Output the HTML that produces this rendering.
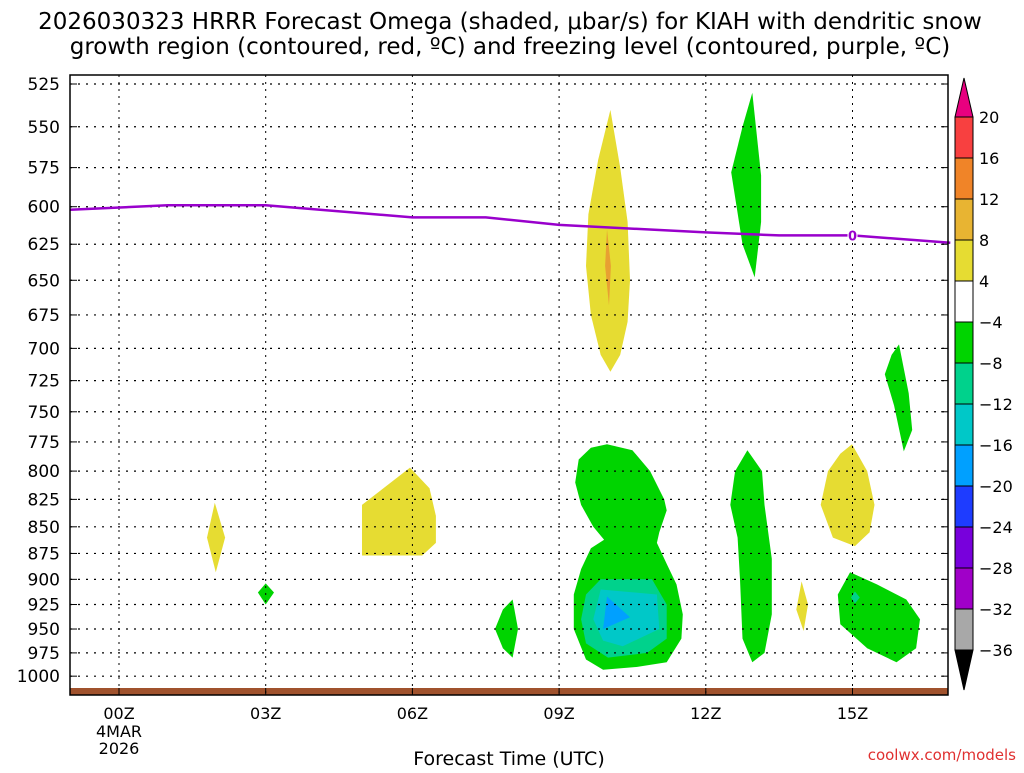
<!DOCTYPE html>
<html><head><meta charset="utf-8"><style>
body{margin:0;background:#fff;}
svg text{font-family:"DejaVu Sans","Liberation Sans",sans-serif;}
</style></head><body>
<svg id="c" width="1024" height="768" xmlns="http://www.w3.org/2000/svg">
<text x="510" y="29" font-size="23" text-anchor="middle">2026030323 HRRR Forecast Omega (shaded, μbar/s) for KIAH with dendritic snow</text>
<text x="510" y="54" font-size="23" text-anchor="middle">growth region (contoured, red, ºC) and freezing level (contoured, purple, ºC)</text>
<g id="fills"></g>
<g id="grid"></g>
<g id="lines"></g>
<g id="axes"></g>
<g id="cbar"></g>
<text x="509" y="765" font-size="19" text-anchor="middle">Forecast Time (UTC)</text>
<text x="1016" y="760" font-size="15" fill="#e03030" text-anchor="end">coolwx.com/models</text>
</svg>
<script>
const pressureTicks=[525,550,575,600,625,650,675,700,725,750,775,800,825,850,875,900,925,950,975,1000];
const hourTicks=[0,3,6,9,12,15];
const hourLabels=["00Z","03Z","06Z","09Z","12Z","15Z"];
const cbarLevels=[20,16,12,8,4,-4,-8,-12,-16,-20,-24,-28,-32,-36];
const cbarColors=["#f84040","#f08428","#e8b432","#e6dc32","#ffffff","#00d400","#00d28c","#00c8c8","#00a0ff","#1e3cff","#7800dc","#a000c8","#a8a8a8"];
const freezeHours=[-1,1,3,6,7.5,9,12,13.5,15,17];
const freezeP=[602,599,599,607,607,612,617,619,619,624];
const yellow="#e6dc32",orange="#e8a032",green="#00d400",teal="#00d28c",cyan="#00c8c8",blue="#00a0ff";
const blobs=[
[yellow,[[10.05,540],[10.25,575],[10.4,610],[10.45,650],[10.4,680],[10.25,705],[10.05,718],[9.85,705],[9.65,675],[9.55,640],[9.6,605],[9.8,570]]],
[orange,[[9.98,615],[10.06,640],[10.02,668],[9.94,640]]],
[green,[[12.95,530],[13.13,580],[13.13,610],[13.0,648],[12.75,625],[12.52,578],[12.75,550]]],
[green,[[15.95,697],[16.15,735],[16.22,765],[16.05,783],[15.85,745],[15.66,720],[15.8,705]]],
[yellow,[[1.96,828],[2.17,860],[1.98,893],[1.8,860]]],
[green,[[3.0,904],[3.17,913],[3.0,925],[2.84,913]]],
[yellow,[[4.97,830],[5.95,797],[6.35,815],[6.48,840],[6.48,865],[6.2,877],[4.97,877]]],
[green,[[8.05,920],[8.16,950],[8.05,980],[7.85,970],[7.69,950],[7.85,930]]],
[green,[[9.98,777],[10.5,782],[10.86,800],[11.15,825],[11.2,835],[11.05,855],[11.0,865],[11.2,885],[11.4,905],[11.53,935],[11.5,960],[11.2,985],[10.6,990],[9.9,993],[9.55,982],[9.3,950],[9.3,915],[9.45,890],[9.65,870],[9.92,862],[9.7,850],[9.45,830],[9.33,810],[9.4,790],[9.65,780]]],
[teal,[[9.55,915],[9.85,900],[10.9,900],[11.2,925],[11.2,960],[10.8,975],[10.0,980],[9.55,965],[9.45,940]]],
[cyan,[[9.85,910],[11.0,915],[11.05,950],[10.3,968],[9.9,962],[9.7,940]]],
[blue,[[9.98,917],[10.45,938],[9.9,950]]],
[green,[[12.85,782],[13.15,800],[13.2,830],[13.35,880],[13.35,935],[13.2,975],[12.95,985],[12.75,960],[12.7,900],[12.65,860],[12.5,830],[12.6,800]]],
[yellow,[[13.96,902],[14.09,925],[14.0,952],[13.85,930]]],
[yellow,[[14.99,777],[15.3,800],[15.45,830],[15.35,855],[15.05,868],[14.6,860],[14.35,830],[14.5,800],[14.75,785]]],
[green,[[14.95,893],[15.5,905],[16.1,920],[16.38,940],[16.3,970],[15.9,985],[15.3,970],[14.75,945],[14.7,915]]],
[teal,[[15.05,912],[15.15,918],[15.05,924],[14.97,918]]]
];
const NS="http://www.w3.org/2000/svg";
const L=70,R=948,T=75,B=695;
const X=h=>119+48.9*h;
const Y=p=>84+919*Math.log(p/525);
function mk(t,a,par){const e=document.createElementNS(NS,t);for(const k in a)e.setAttribute(k,a[k]);document.getElementById(par).appendChild(e);return e;}
blobs.forEach(([c,pts],i)=>{
 const e=mk('polygon',{points:pts.map(q=>X(q[0]).toFixed(1)+','+Y(q[1]).toFixed(1)).join(' '),fill:c},'fills');
 
 
});
let gb=mk('rect',{x:L,y:688,width:R-L,height:7,fill:'#a0522d'},'fills');


pressureTicks.forEach(p=>{
 const y=Y(p);
 const g=mk('line',{x1:L,x2:R,y1:y,y2:y,stroke:'#000','stroke-width':1.2,'stroke-dasharray':'2,6'},'grid');
 
 
 mk('line',{x1:L,x2:L+7,y1:y,y2:y,stroke:'#000'},'axes');
 mk('line',{x1:R-7,x2:R,y1:y,y2:y,stroke:'#000'},'axes');
 const t=mk('text',{x:60,y:y+6,'font-size':17,'text-anchor':'end'},'axes');t.textContent=p;
 
 
});
hourTicks.forEach((h,i)=>{
 const x=X(h);
 const g=mk('line',{x1:x,x2:x,y1:T,y2:B,stroke:'#000','stroke-width':1,'stroke-dasharray':'2,5'},'grid');
 
 
 mk('line',{x1:x,x2:x,y1:B,y2:B-7,stroke:'#000'},'axes');
 const t=mk('text',{x:x,y:719,'font-size':16,'text-anchor':'middle'},'axes');t.textContent=hourLabels[i];
 
 
});
[["4MAR",737],["2026",754]].forEach(([s,y])=>{const t=mk('text',{x:X(0),y:y,'font-size':16,'text-anchor':'middle'},'axes');t.textContent=s;
 
 });
const fr=mk('rect',{x:L,y:T,width:R-L,height:B-T,fill:'none',stroke:'#000','stroke-width':1.5},'axes');


const fl=mk('polyline',{points:freezeHours.map((h,i)=>X(h).toFixed(1)+','+Y(freezeP[i]).toFixed(1)).join(' '),fill:'none',stroke:'#9900cc','stroke-width':2.5},'lines');


const fy=Y(freezeP[8]);
mk('rect',{x:X(15)-5,y:fy-7,width:10,height:14,fill:'#fff'},'lines');
const fz=mk('text',{x:X(15),y:fy+5,'font-size':13,'font-weight':'bold',fill:'#9900cc','text-anchor':'middle'},'lines');fz.textContent='0';


const cx=955,cw=18,cy0=117,step=41;
mk('polygon',{points:`${cx},${cy0} ${cx+cw},${cy0} ${cx+cw/2},78`,fill:'#e8007f',stroke:'#000'},'cbar');
cbarColors.forEach((c,i)=>{const r=mk('rect',{x:cx,y:cy0+i*step,width:cw,height:step,fill:c,stroke:'#000'},'cbar');
 
 });
const yb=cy0+cbarColors.length*step;
mk('polygon',{points:`${cx},${yb} ${cx+cw},${yb} ${cx+cw/2},690`,fill:'#000',stroke:'#000'},'cbar');
cbarLevels.forEach((v,i)=>{const t=mk('text',{x:979,y:cy0+i*step+6,'font-size':16},'cbar');t.textContent=(v<0?'\u2212'+(-v):v);
 
 });
</script>
</body></html>
